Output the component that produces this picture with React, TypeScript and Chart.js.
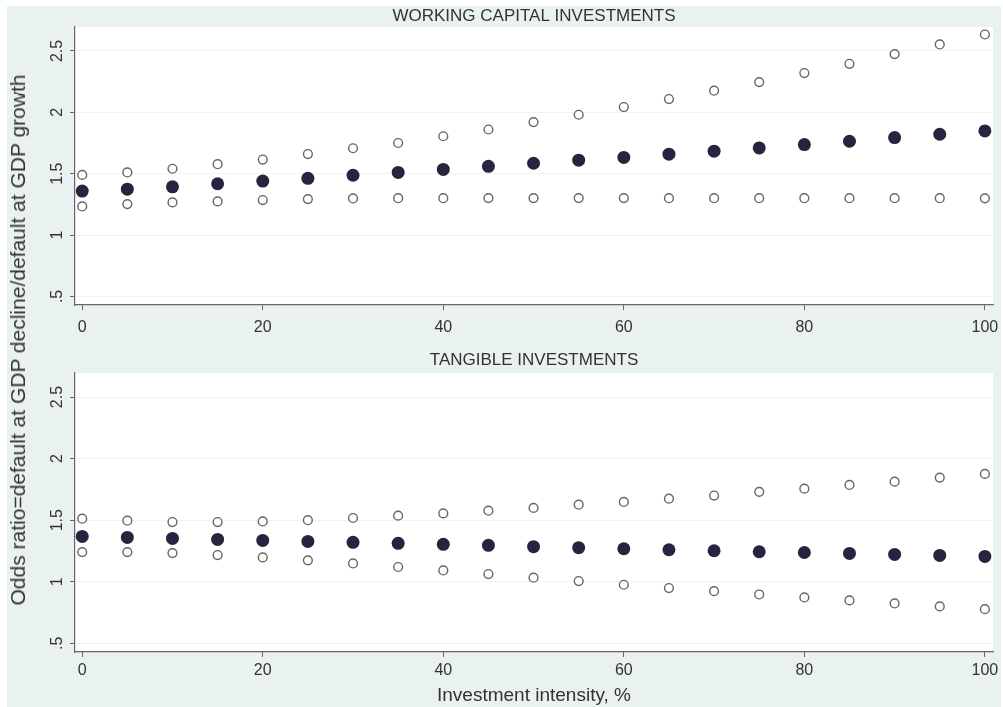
import React, { useEffect, useRef } from "react";
import { Chart, registerables } from "chart.js";

Chart.register(...registerables);

// ---- data ----
const xValues = [0, 5, 10, 15, 20, 25, 30, 35, 40, 45, 50, 55, 60, 65, 70, 75, 80, 85, 90, 95, 100];

const wcEstimate = [1.358, 1.374, 1.393, 1.418, 1.44, 1.462, 1.487, 1.51, 1.535, 1.56, 1.585, 1.61, 1.632, 1.659, 1.683, 1.71, 1.737, 1.764, 1.794, 1.821, 1.848];
const wcUpper = [1.49, 1.51, 1.54, 1.577, 1.615, 1.66, 1.707, 1.75, 1.805, 1.86, 1.92, 1.98, 2.043, 2.108, 2.176, 2.246, 2.32, 2.395, 2.474, 2.553, 2.634];
const wcLower = [1.233, 1.252, 1.266, 1.274, 1.285, 1.293, 1.298, 1.3, 1.3, 1.301, 1.301, 1.301, 1.301, 1.3, 1.3, 1.3, 1.3, 1.3, 1.3, 1.3, 1.299];

const tgEstimate = [1.368, 1.36, 1.352, 1.344, 1.336, 1.328, 1.32, 1.312, 1.304, 1.296, 1.285, 1.277, 1.268, 1.26, 1.252, 1.244, 1.238, 1.23, 1.222, 1.214, 1.206];
const tgUpper = [1.512, 1.496, 1.485, 1.485, 1.49, 1.5, 1.518, 1.537, 1.555, 1.577, 1.6, 1.626, 1.648, 1.675, 1.7, 1.73, 1.756, 1.786, 1.813, 1.846, 1.876];
const tgLower = [1.241, 1.241, 1.233, 1.217, 1.198, 1.174, 1.149, 1.12, 1.092, 1.063, 1.033, 1.006, 0.976, 0.949, 0.924, 0.897, 0.873, 0.849, 0.824, 0.8, 0.778];

const xTicks = [0, 20, 40, 60, 80, 100];
const yTicks = [0.5, 1, 1.5, 2, 2.5];

const topTitle = "WORKING CAPITAL INVESTMENTS";
const bottomTitle = "TANGIBLE INVESTMENTS";
const xAxisTitle = "Investment intensity, %";
const yAxisTitle = "Odds ratio=default at GDP decline/default at GDP growth";

// ---- styles ----
const FONT = "'Liberation Sans', Arial, sans-serif";
const TEXT = "#333333";
const AXIS = "#666666";
const PANEL_BG = "#eaf1f1";
const FILLED = "#25253f";
const HOLLOW = "#666666";

const plotBgPlugin = {
  id: "plotBg",
  beforeDraw(chart: any) {
    const { ctx, chartArea } = chart;
    ctx.save();
    ctx.fillStyle = "#ffffff";
    ctx.fillRect(chartArea.left, chartArea.top, chartArea.right - chartArea.left, chartArea.bottom - chartArea.top);
    ctx.restore();
  },
};

function pts(ys: number[]) {
  return xValues.map((x, i) => ({ x, y: ys[i] }));
}

function makeConfig(opts: {
  title: string;
  est: number[];
  up: number[];
  lo: number[];
  titlePadTop: number;
  titlePadBottom: number;
  xHeight: number;
  xPad: number;
  showXTitle: boolean;
}): any {
  const hollow = (data: number[]) => ({
    data: pts(data),
    pointRadius: 4.4,
    pointBorderWidth: 1.4,
    pointBackgroundColor: "#ffffff",
    pointBorderColor: HOLLOW,
    showLine: false,
  });
  return {
    type: "scatter",
    data: {
      datasets: [
        hollow(opts.up),
        hollow(opts.lo),
        {
          data: pts(opts.est),
          pointRadius: 6.5,
          pointBorderWidth: 0,
          pointBackgroundColor: FILLED,
          pointBorderColor: FILLED,
          showLine: false,
        },
      ],
    },
    options: {
      animation: false,
      responsive: true,
      maintainAspectRatio: false,
      layout: { padding: { left: 0, right: 8, top: 0, bottom: 0 } },
      plugins: {
        legend: { display: false },
        tooltip: { enabled: false },
        title: {
          display: true,
          text: opts.title,
          fullSize: false,
          color: TEXT,
          font: { family: FONT, size: 17, weight: "normal", lineHeight: 1.2 },
          padding: { top: opts.titlePadTop, bottom: opts.titlePadBottom },
        },
      },
      scales: {
        x: {
          type: "linear",
          min: -0.8,
          max: 100.9,
          afterFit(scale: any) {
            scale.height = opts.xHeight;
            scale.paddingLeft = 0;
            scale.paddingRight = 0;
          },
          afterBuildTicks(scale: any) {
            scale.ticks = xTicks.map((v) => ({ value: v }));
          },
          ticks: {
            color: TEXT,
            font: { family: FONT, size: 16 },
            padding: opts.xPad,
            maxRotation: 0,
            minRotation: 0,
            includeBounds: false,
          },
          grid: {
            drawOnChartArea: false,
            drawTicks: true,
            tickLength: 5,
            tickColor: AXIS,
          },
          border: { display: true, color: AXIS, width: 1.2 },
          title: {
            display: opts.showXTitle,
            text: xAxisTitle,
            color: TEXT,
            font: { family: FONT, size: 19 },
            padding: { top: 4, bottom: 0 },
          },
        },
        y: {
          type: "linear",
          min: 0.43,
          max: 2.695,
          afterFit(scale: any) {
            scale.width = 68;
            scale.paddingTop = 0;
            scale.paddingBottom = 0;
          },
          afterBuildTicks(scale: any) {
            scale.ticks = yTicks.map((v) => ({ value: v }));
          },
          ticks: {
            color: TEXT,
            font: { family: FONT, size: 16 },
            padding: 1,
            minRotation: 90,
            maxRotation: 90,
            crossAlign: "center",
            includeBounds: false,
            callback: (v: number) => (v === 0.5 ? ".5" : String(v)),
          },
          grid: {
            color: "#f0f3f3",
            lineWidth: 1,
            drawTicks: true,
            tickLength: 5,
            tickColor: AXIS,
          },
          border: { display: true, color: AXIS, width: 1.2 },
        },
      },
    },
    plugins: [plotBgPlugin],
  };
}

function Panel(props: { config: any; style: React.CSSProperties }) {
  const ref = useRef<HTMLCanvasElement | null>(null);
  useEffect(() => {
    if (!ref.current) return;
    const chart = new Chart(ref.current, props.config);
    return () => chart.destroy();
  }, []);
  return (
    <div style={{ position: "absolute", ...props.style }}>
      <canvas ref={ref} />
    </div>
  );
}

export default function App() {
  const topConfig = makeConfig({
    title: topTitle,
    est: wcEstimate,
    up: wcUpper,
    lo: wcLower,
    titlePadTop: 0,
    titlePadBottom: 0.6,
    xHeight: 35,
    xPad: 8,
    showXTitle: false,
  });
  const bottomConfig = makeConfig({
    title: bottomTitle,
    est: tgEstimate,
    up: tgUpper,
    lo: tgLower,
    titlePadTop: 10,
    titlePadBottom: 2.6,
    xHeight: 55,
    xPad: 3.5,
    showXTitle: true,
  });
  return (
    <div
      style={{
        position: "absolute",
        left: 0,
        top: 0,
        width: 1003,
        height: 707,
        background: "#ffffff",
        overflow: "hidden",
      }}
    >
      <div
        style={{
          position: "absolute",
          left: 7,
          top: 6,
          width: 994,
          height: 701,
          background: PANEL_BG,
        }}
      />
      <Panel config={topConfig} style={{ left: 7, top: 6, width: 994, height: 334 }} />
      <Panel config={bottomConfig} style={{ left: 7, top: 340, width: 994, height: 367 }} />
      <div
        style={{
          position: "absolute",
          left: 18,
          top: 340,
          transform: "translate(-50%, -50%) rotate(-90deg)",
          whiteSpace: "nowrap",
          fontFamily: FONT,
          fontSize: 21,
          color: TEXT,
          lineHeight: "24px",
        }}
      >
        {yAxisTitle}
      </div>
    </div>
  );
}
